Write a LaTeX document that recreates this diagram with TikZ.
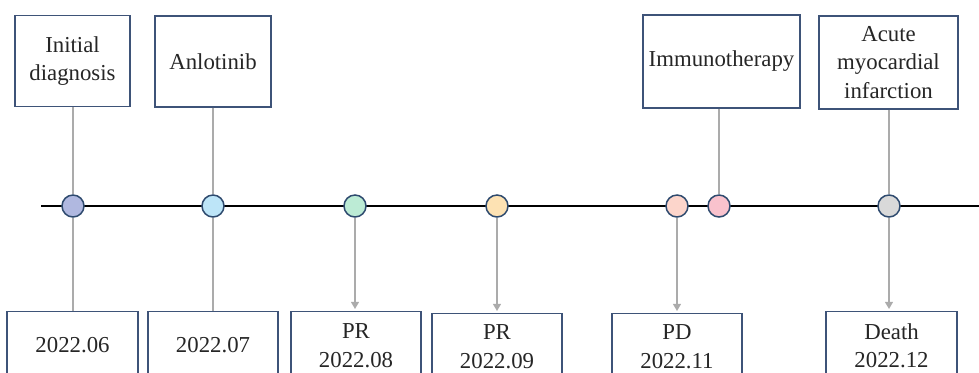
\documentclass[tikz,border=0pt]{standalone}
\usepackage{fontspec}
\setmainfont{Liberation Serif}
\newfontfamily\timesfont{Liberation Serif}
\usetikzlibrary{arrows.meta}

\definecolor{boxline}{HTML}{3E5378}
\definecolor{dotline}{HTML}{2E4A6E}
\definecolor{linkgray}{HTML}{ABABAB}
\definecolor{c06}{HTML}{B0B8E0}
\definecolor{c07}{HTML}{BDE5F8}
\definecolor{c08}{HTML}{BCEBD5}
\definecolor{c09}{HTML}{FDE2B3}
\definecolor{c11}{HTML}{FCD5CB}
\definecolor{cim}{HTML}{F9C2CD}
\definecolor{c12}{HTML}{D9D9D9}

\begin{document}
\begin{tikzpicture}[x=0.5pt,y=-0.5pt,
  every node/.style={font=\timesfont\fontsize{11.4}{14.2}\selectfont,align=center,text=black!85},
  event/.style={draw=boxline,line width=0.6pt,fill=white,inner sep=1pt},
  dot/.style={circle,draw=dotline,line width=0.75pt,minimum size=11pt,inner sep=0pt},
  link/.style={draw=linkgray,line width=0.75pt},
  tip/.style={link,-{Triangle[width=4pt,length=3.6pt]},shorten >=1pt}]
  \useasboundingbox (0,0) rectangle (979,372);
  \clip (0,0) rectangle (979,372);

  % time axis
  \coordinate (start) at (41,206);
  \coordinate (end) at (979,206);
  \draw[line width=1pt] (start) -- (end);

  % events above the axis
  \node[event,minimum width=57.5pt,minimum height=45.5pt] (diag) at (72.5,61) {Initial\\diagnosis};
  \node[event,minimum width=58pt,minimum height=45.5pt] (anlo) at (213,61.5) {Anlotinib};
  \node[event,minimum width=78.5pt,minimum height=46.5pt] (immu) at (721.5,61.5) {Immunotherapy};
  \node[event,minimum width=69.5pt,minimum height=46.5pt] (ami) at (888.5,62.5) {Acute\\myocardial\\infarction};

  % points on the axis
  \node[dot,fill=c06] (d06) at (73,206) {};
  \node[dot,fill=c07] (d07) at (213,206) {};
  \node[dot,fill=c08] (d08) at (355,206) {};
  \node[dot,fill=c09] (d09) at (497,206) {};
  \node[dot,fill=c11] (d11) at (677,206) {};
  \node[dot,fill=cim] (dim) at (719,206) {};
  \node[dot,fill=c12] (d12) at (889,206) {};

  % dates below the axis
  \node[event,anchor=north,minimum width=65.5pt,minimum height=33pt] (m06) at (72.5,311) {2022.06};
  \node[event,anchor=north,minimum width=65pt,minimum height=33pt] (m07) at (213,311) {2022.07};
  \node[event,anchor=north,minimum width=65pt,minimum height=34pt] (m08) at (356,311) {PR\\2022.08};
  \node[event,anchor=north,minimum width=65pt,minimum height=33pt] (m09) at (497,313) {PR\\2022.09};
  \node[event,anchor=north,minimum width=65pt,minimum height=33pt] (m11) at (677,313) {PD\\2022.11};
  \node[event,anchor=north,minimum width=65.5pt,minimum height=34pt] (m12) at (891.5,311) {Death\\2022.12};

  \draw[link] (d06 |- diag.south) -- (d06);
  \draw[link] (d07 |- anlo.south) -- (d07);
  \draw[link] (dim |- immu.south) -- (dim);
  \draw[link] (d12 |- ami.south) -- (d12);

  \draw[link] (d06) -- (d06 |- m06.north);
  \draw[link] (d07) -- (d07 |- m07.north);
  \draw[tip] (d08) -- (d08 |- m08.north);
  \draw[tip] (d09) -- (d09 |- m09.north);
  \draw[tip] (d11) -- (d11 |- m11.north);
  \draw[tip] (d12) -- (d12 |- m12.north);

\end{tikzpicture}
\end{document}
